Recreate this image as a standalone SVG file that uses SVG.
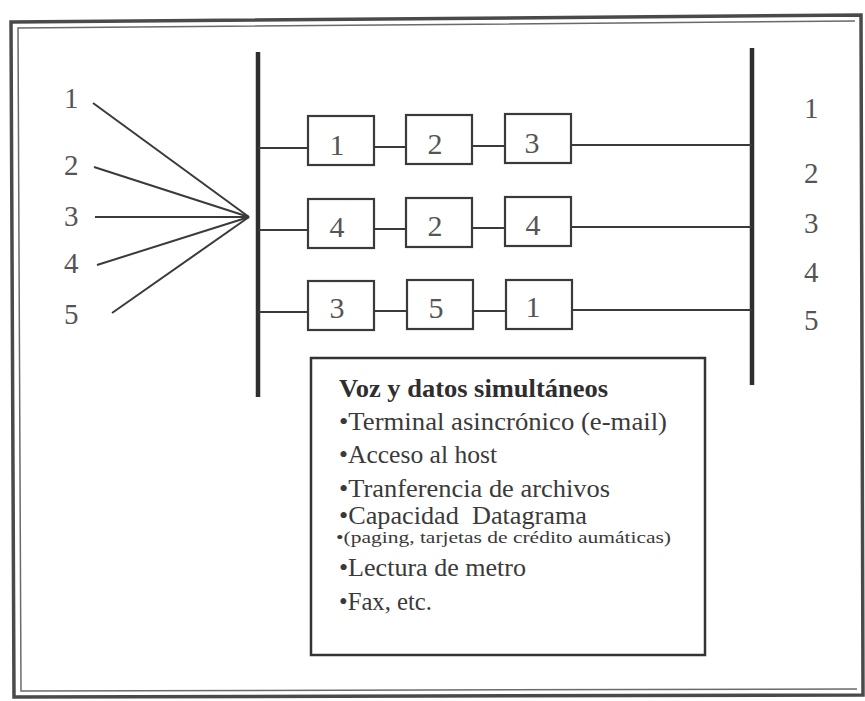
<svg xmlns="http://www.w3.org/2000/svg" width="865" height="701" viewBox="0 0 865 701">
<style>
  .bg{fill:#ffffff}
  .frame{fill:none;stroke:#4a4a4a;stroke-width:3.5}
  .frame2{fill:none;stroke:#6a6a6a;stroke-width:1.5}
  .bar{stroke:#2e2e2e;stroke-width:4.5;stroke-linecap:butt}
  .ln{stroke:#3a3a3a;stroke-width:2;fill:none}
  .box{fill:#ffffff;stroke:#3a3a3a;stroke-width:2.2}
  .num{font-family:"Liberation Serif","Times New Roman",serif;font-size:29px;fill:#555555}
  .bnum{font-family:"Liberation Serif","Times New Roman",serif;font-size:30px;fill:#555555;text-anchor:middle}
  .txt{font-family:"Liberation Serif","Times New Roman",serif;font-size:26px;fill:#3a3a3a}
  .ttl{font-family:"Liberation Serif","Times New Roman",serif;font-size:26px;font-weight:bold;fill:#2e2e2e}
  .sml{font-family:"Liberation Serif","Times New Roman",serif;font-size:17px;fill:#3a3a3a}
  .tbox{fill:#ffffff;stroke:#333333;stroke-width:2.5}
</style>
<rect class="bg" x="0" y="0" width="865" height="701"/>
<g id="frame">
  <path class="frame" d="M11,22 L861,15 L863,695 L14,697 Z"/>
  <path class="frame2" d="M855,21 L18,28 L21,691 L857,689"/>
</g>
<g id="connectors">
  <line class="bar" x1="258" y1="52" x2="258" y2="397"/>
  <line class="bar" x1="752" y1="48" x2="752" y2="385"/>
  <line class="ln" x1="93" y1="103" x2="249" y2="217"/>
  <line class="ln" x1="94" y1="167" x2="249" y2="217"/>
  <line class="ln" x1="95" y1="217" x2="249" y2="217"/>
  <line class="ln" x1="97" y1="265" x2="249" y2="217"/>
  <line class="ln" x1="112" y1="313" x2="249" y2="217"/>
  <line class="ln" x1="258" y1="148" x2="308" y2="148"/>
  <line class="ln" x1="374" y1="147" x2="406" y2="147"/>
  <line class="ln" x1="472" y1="146" x2="505" y2="146"/>
  <line class="ln" x1="571" y1="145" x2="752" y2="145"/>
  <line class="ln" x1="258" y1="230" x2="308" y2="230"/>
  <line class="ln" x1="374" y1="229" x2="406" y2="229"/>
  <line class="ln" x1="472" y1="228" x2="505" y2="228"/>
  <line class="ln" x1="571" y1="227" x2="752" y2="227"/>
  <line class="ln" x1="258" y1="312" x2="308" y2="312"/>
  <line class="ln" x1="374" y1="311" x2="406" y2="311"/>
  <line class="ln" x1="472" y1="311" x2="505" y2="311"/>
  <line class="ln" x1="571" y1="310" x2="752" y2="310"/>
</g>
<g id="left-labels">
  <text class="num" x="64" y="108">1</text>
  <text class="num" x="64" y="175">2</text>
  <text class="num" x="64" y="226">3</text>
  <text class="num" x="64" y="273">4</text>
  <text class="num" x="64" y="324">5</text>
</g>
<g id="right-labels">
  <text class="num" x="804" y="118">1</text>
  <text class="num" x="804" y="183">2</text>
  <text class="num" x="804" y="233">3</text>
  <text class="num" x="804" y="282">4</text>
  <text class="num" x="804" y="330">5</text>
</g>
<g id="row1">
  <g id="r1b1"><rect class="box" x="308" y="116" width="66" height="49"/><text class="bnum" x="337" y="155">1</text></g>
  <g id="r1b2"><rect class="box" x="406" y="115" width="66" height="49"/><text class="bnum" x="435" y="154">2</text></g>
  <g id="r1b3"><rect class="box" x="505" y="114" width="66" height="49"/><text class="bnum" x="532" y="153">3</text></g>
</g>
<g id="row2">
  <g id="r2b1"><rect class="box" x="308" y="199" width="66" height="49"/><text class="bnum" x="337" y="237">4</text></g>
  <g id="r2b2"><rect class="box" x="406" y="198" width="66" height="49"/><text class="bnum" x="435" y="236">2</text></g>
  <g id="r2b3"><rect class="box" x="505" y="197" width="66" height="49"/><text class="bnum" x="533" y="235">4</text></g>
</g>
<g id="row3">
  <g id="r3b1"><rect class="box" x="308" y="281" width="66" height="49"/><text class="bnum" x="337" y="318">3</text></g>
  <g id="r3b2"><rect class="box" x="407" y="280" width="66" height="49"/><text class="bnum" x="436" y="318">5</text></g>
  <g id="r3b3"><rect class="box" x="506" y="280" width="66" height="49"/><text class="bnum" x="533" y="317">1</text></g>
</g>
<g id="textbox">
  <rect class="tbox" x="311" y="358" width="394" height="297"/>
  <text class="ttl" x="339" y="397" textLength="269" lengthAdjust="spacingAndGlyphs">Voz y datos simultáneos</text>
  <text class="txt" x="339" y="430" textLength="328" lengthAdjust="spacingAndGlyphs">•Terminal asincrónico (e-mail)</text>
  <text class="txt" x="339" y="463" textLength="158" lengthAdjust="spacingAndGlyphs">•Acceso al host</text>
  <text class="txt" x="339" y="497" textLength="271" lengthAdjust="spacingAndGlyphs">•Tranferencia de archivos</text>
  <text class="txt" x="339" y="524" textLength="248" lengthAdjust="spacingAndGlyphs" xml:space="preserve">•Capacidad  Datagrama</text>
  <text class="sml" x="336" y="543" textLength="335" lengthAdjust="spacingAndGlyphs">•(paging, tarjetas de crédito aumáticas)</text>
  <text class="txt" x="339" y="576" textLength="187" lengthAdjust="spacingAndGlyphs">•Lectura de metro</text>
  <text class="txt" x="339" y="610" textLength="93" lengthAdjust="spacingAndGlyphs">•Fax, etc.</text>
</g>
</svg>
